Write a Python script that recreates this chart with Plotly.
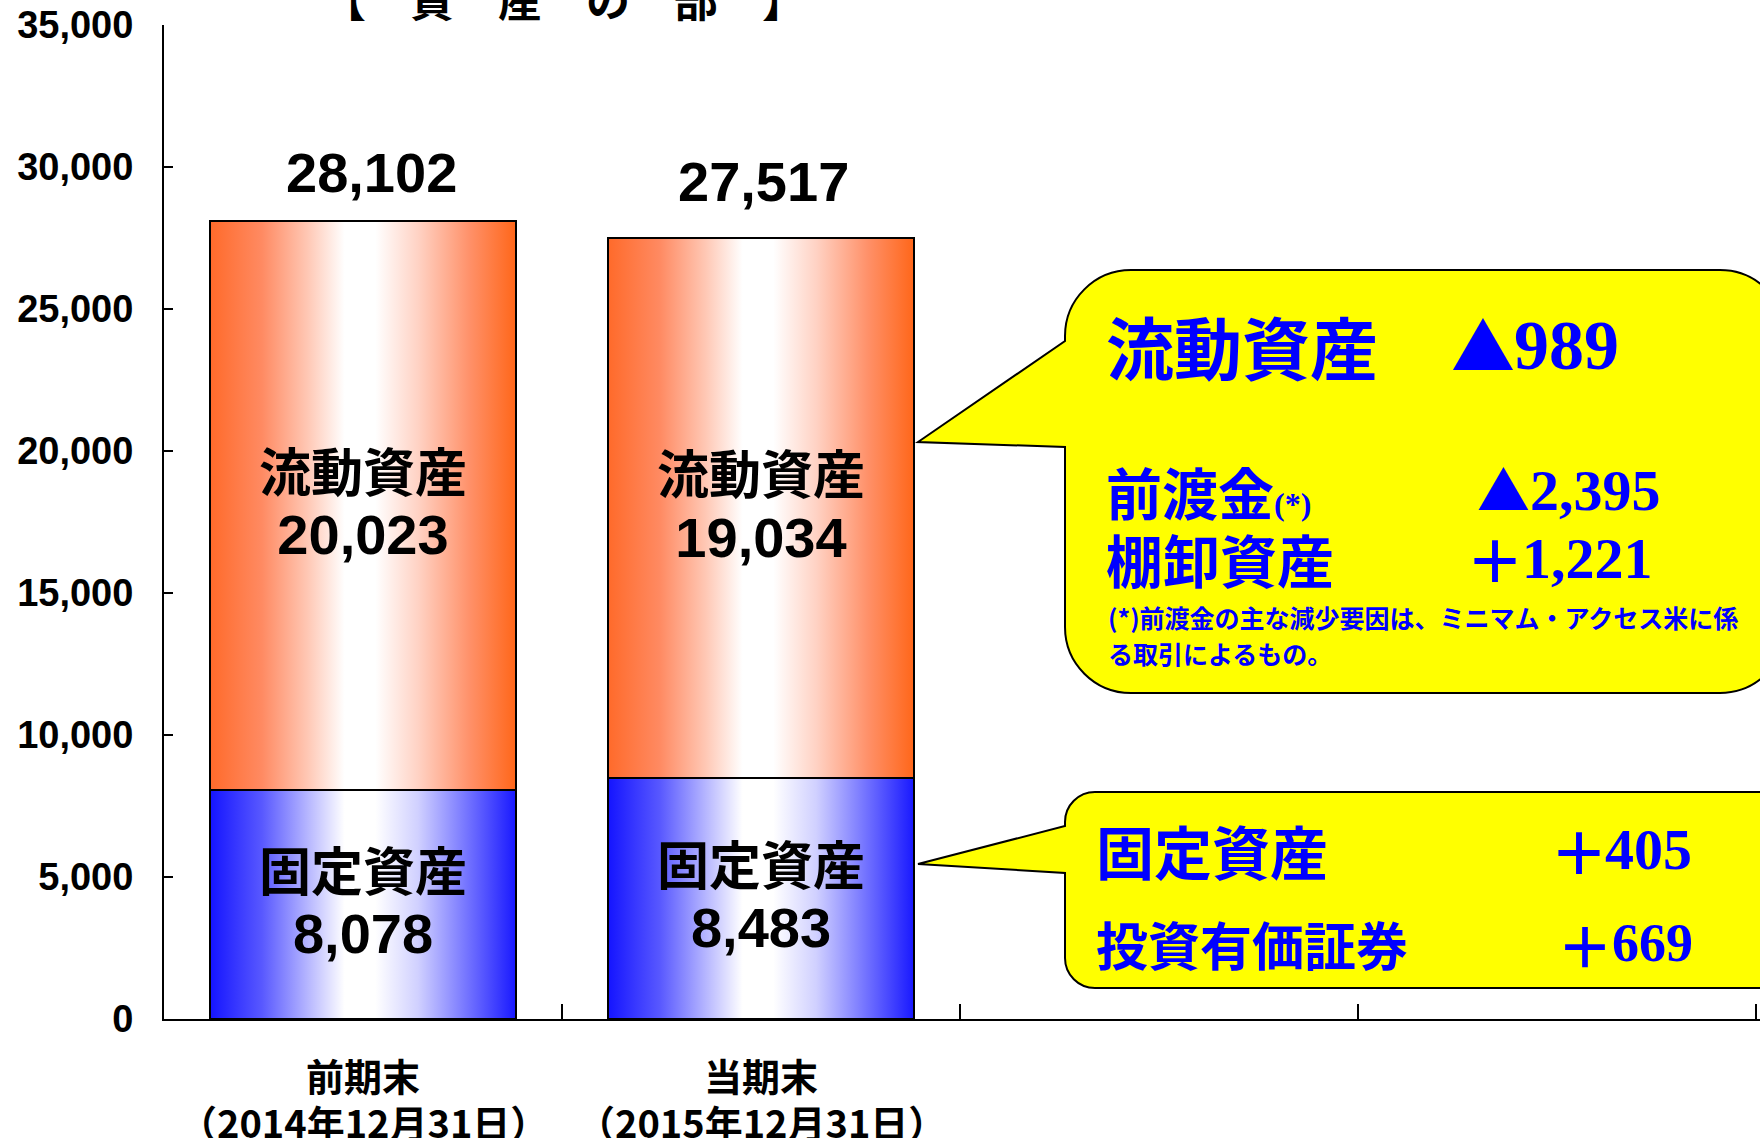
import plotly.graph_objects as go

# ---------------- data ----------------
categories = ["前期末", "当期末"]
period_dates = ["（2014年12月31日）", "（2015年12月31日）"]
segment_names = ["固定資産", "流動資産"]
fixed_assets = [8078, 8483]
current_assets = [20023, 19034]
total_assets = [28102, 27517]
y_tick_values = [0, 5000, 10000, 15000, 20000, 25000, 30000, 35000]
chart_title = "【　資　産　の　部　】"

callout_current_head = ("流動資産", "▲", "989")
callout_current_items = [("前渡金", "▲", "2,395"), ("棚卸資産", "＋", "1,221")]
callout_current_note = ["(*)前渡金の主な減少要因は、ミニマム・アクセス米に係", "る取引によるもの。"]
callout_fixed_items = [("固定資産", "＋", "405"), ("投資有価証券", "＋", "669")]

# ---------------- layout geometry (pixels) ----------------
W, H = 1760, 1138
L, R, T, B = 164, 1760, 25, 1019
XRANGE = [-0.5, 3.51]
BAR_W = 0.77

JP = "Noto Sans CJK JP"
SANS = "Liberation Sans, Arial, Noto Sans CJK JP"
SERIF = "Liberation Serif, Times New Roman, Noto Sans CJK JP"
BLUE = "#0000FF"


def px(x):
    return (x - L) / (R - L)


def py(y):
    return (B - y) / (B - T)


orange_scale = [[0, "#FF6A2A"], [0.17, "#FF8A62"], [0.32, "#FFC8B5"], [0.44, "#FFFFFF"],
                [0.54, "#FFFFFF"], [0.68, "#FFD2C4"], [0.85, "#FF9068"], [1, "#FF6619"]]
blue_scale = [[0, "#1414FF"], [0.17, "#5858FF"], [0.32, "#B6B6FF"], [0.44, "#FFFFFF"],
              [0.54, "#FFFFFF"], [0.68, "#D0D0FF"], [0.85, "#6E6EFF"], [1, "#1818FF"]]

fig = go.Figure()

# gradient fills of the stacked segments (derived from the data)
for i in range(len(categories)):
    segs = [(0, fixed_assets[i], blue_scale),
            (fixed_assets[i], fixed_assets[i] + current_assets[i], orange_scale)]
    x0, x1 = i - BAR_W / 2, i + BAR_W / 2
    for base, top, cs in segs:
        fig.add_trace(go.Scatter(
            x=[x0, x1, x1, x0, x0], y=[base, base, top, top, base],
            mode="lines", line=dict(width=0), fill="toself",
            fillgradient=dict(type="horizontal", colorscale=cs, start=x0, stop=x1),
            hoverinfo="skip", showlegend=False, yaxis="y"))

# stacked bars (outline + labels) on an overlaid axis so they sit above the fills
for name, vals in zip(segment_names, [fixed_assets, current_assets]):
    fig.add_trace(go.Bar(
        x=list(range(len(categories))), y=vals, width=BAR_W, yaxis="y2",
        marker=dict(color="rgba(0,0,0,0)", line=dict(color="black", width=2)),
        text=[f"<span style='font-size:52px'>{name}</span><br>"
              f"<span style='font-size:56px'>{v:,}</span>" for v in vals],
        textposition="inside", insidetextanchor="middle", textangle=0,
        constraintext="none",
        textfont=dict(family=SANS, size=48, color="black", weight="bold"),
        hoverinfo="skip", showlegend=False))

annotations = []
# totals above the bars
total_shift_y = [48, 56]
total_shift_x = [8, 2]
for i, tot in enumerate(total_assets):
    annotations.append(dict(x=i, y=tot, xref="x", yref="y", text=f"{tot:,}",
                            showarrow=False, yanchor="middle",
                            yshift=total_shift_y[i], xshift=total_shift_x[i],
                            font=dict(family=SANS, size=56, color="black", weight="bold")))
# date line under category labels
for i, d in enumerate(period_dates):
    annotations.append(dict(x=i, y=py(1121), xref="x", yref="paper", text=d,
                            showarrow=False, yanchor="middle",
                            font=dict(family=JP, size=38, color="black", weight="bold")))
# partially visible title
annotations.append(dict(x=px(564), y=py(-2), xref="paper", yref="paper", text=chart_title,
                        showarrow=False, xanchor="center", yanchor="middle",
                        font=dict(family=JP, size=44, color="black", weight="bold")))


def txt(x, y, text, size, family=JP, anchor="left"):
    annotations.append(dict(x=px(x), y=py(y), xref="paper", yref="paper", text=text,
                            showarrow=False, xanchor=anchor, yanchor="middle",
                            font=dict(family=family, size=size, color=BLUE, weight="bold")))


# big callout texts
txt(1104, 345, callout_current_head[0], 68)
txt(1483, 343, callout_current_head[1], 64, JP, "center")
txt(1512, 345, callout_current_head[2], 70, SERIF)
txt(1104, 490, callout_current_items[0][0] +
    "<span style='font-family:Liberation Serif;font-size:32px'>(*)</span>", 56)
txt(1503, 488, callout_current_items[0][1], 53, JP, "center")
txt(1528, 490, callout_current_items[0][2], 58, SERIF)
txt(1104, 558, callout_current_items[1][0], 57)
txt(1495, 558, callout_current_items[1][1], 58, JP, "center")
txt(1520, 558, callout_current_items[1][2], 58, SERIF)
txt(1106, 617, callout_current_note[0], 25)
txt(1106, 653, callout_current_note[1], 25)
# small callout texts
txt(1094, 850, callout_fixed_items[0][0], 58)
txt(1579, 850, callout_fixed_items[0][1], 58, JP, "center")
txt(1603, 850, callout_fixed_items[0][2], 58, SERIF)
txt(1094, 943, callout_fixed_items[1][0], 52)
txt(1585, 943, callout_fixed_items[1][1], 56, JP, "center")
txt(1610, 943, callout_fixed_items[1][2], 54, SERIF)


def callout_path(left, top, right, bottom, r, join_top, tip, join_bot):
    c = 0.5523

    def p(x, y):
        return f"{px(x):.5f},{py(y):.5f}"
    s = [f"M {p(left + r, top)}", f"L {p(right - r, top)}",
         f"C {p(right - r + r * c, top)} {p(right, top + r - r * c)} {p(right, top + r)}",
         f"L {p(right, bottom - r)}",
         f"C {p(right, bottom - r + r * c)} {p(right - r + r * c, bottom)} {p(right - r, bottom)}",
         f"L {p(left + r, bottom)}",
         f"C {p(left + r - r * c, bottom)} {p(left, bottom - r + r * c)} {p(left, bottom - r)}",
         f"L {p(left, join_bot)}", f"L {p(*tip)}", f"L {p(left, join_top)}",
         f"L {p(left, top + r)}",
         f"C {p(left, top + r - r * c)} {p(left + r - r * c, top)} {p(left + r, top)}", "Z"]
    return " ".join(s)


shapes = [
    dict(type="path", xref="paper", yref="paper", layer="below",
         path=callout_path(1065, 270, 1786, 693, 66, 341, (918, 442), 447),
         fillcolor="#FFFF00", line=dict(color="black", width=2)),
    dict(type="path", xref="paper", yref="paper", layer="below",
         path=callout_path(1065, 792, 1790, 988, 30, 826, (918, 864), 873),
         fillcolor="#FFFF00", line=dict(color="black", width=2)),
]

fig.update_layout(
    width=W, height=H,
    margin=dict(l=L, r=W - R, t=T, b=H - B, pad=0),
    paper_bgcolor="white", plot_bgcolor="rgba(0,0,0,0)",
    barmode="stack", bargap=0, showlegend=False,
    annotations=annotations, shapes=shapes,
    xaxis=dict(range=XRANGE, tickmode="array", tickvals=list(range(len(categories))),
               ticktext=categories, ticks="", showgrid=False, zeroline=False,
               showline=True, linecolor="black", linewidth=2,
               ticklabelstandoff=24,
               tickfont=dict(family=JP, size=38, color="black", weight="bold"),
               minor=dict(tickmode="array", tickvals=[0.5, 1.5, 2.5, 3.5], ticks="inside",
                          ticklen=15, tickwidth=1.5, tickcolor="black", showgrid=False)),
    yaxis=dict(range=[0, 35000], tickmode="array", tickvals=y_tick_values,
               tickformat=",", ticks="inside", ticklen=9, tickwidth=2, tickcolor="black",
               showgrid=False, zeroline=False, showline=True, linecolor="black", linewidth=2,
               ticklabelstandoff=21,
               tickfont=dict(family=SANS, size=38, color="black", weight="bold")),
    yaxis2=dict(range=[0, 35000], overlaying="y", visible=False, showgrid=False),
)

fig.write_html("out.html", config={"displayModeBar": False},
               post_script="document.body.style.margin='0';")
